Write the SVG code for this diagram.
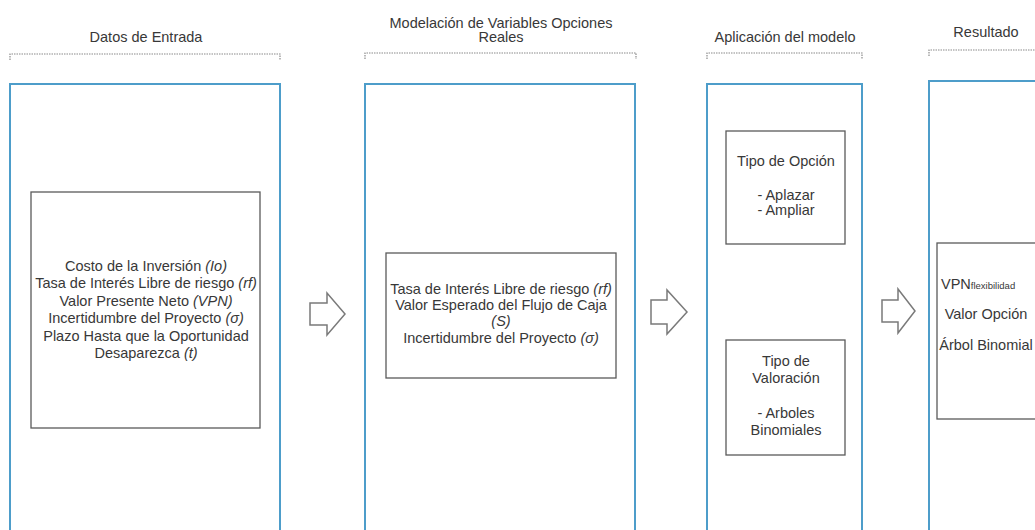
<svg xmlns="http://www.w3.org/2000/svg" width="1035" height="530" viewBox="0 0 1035 530">
<style>
text{font-family:"Liberation Sans",Arial,sans-serif;font-size:14.5px;fill:#383838;text-anchor:middle}
.col{fill:none;stroke:#4d9dca;stroke-width:2}
.box{fill:#fff;stroke:#5a5a5a;stroke-width:1.3}
.brk{fill:none;stroke:#8a8a8a;stroke-width:1.2;stroke-dasharray:1.5 1}
.arr{fill:#fff;stroke:#7a7a7a;stroke-width:1.5;stroke-linejoin:miter}
.i{font-style:italic}
</style>
<rect width="1035" height="530" fill="#fff"/>
<g id="col1">
<text x="146" y="42">Datos de Entrada</text>
<path class="brk" d="M10,60 V54 H280 V60"/>
<rect class="col" x="10" y="84" width="270" height="460"/>
</g>
<g id="col2">
<text x="501" y="28">Modelación de Variables Opciones</text>
<text x="501" y="42">Reales</text>
<path class="brk" d="M365,59 V53 H636 V59"/>
<rect class="col" x="365" y="84" width="270" height="460"/>
</g>
<g id="col3">
<text x="785" y="42">Aplicación del modelo</text>
<path class="brk" d="M707,59 V53 H862 V59"/>
<rect class="col" x="707" y="84" width="155" height="460"/>
</g>
<g id="col4">
<text x="986" y="37">Resultado</text>
<path class="brk" d="M929,56 V50 H1040"/>
<rect class="col" x="929" y="81" width="120" height="460"/>
</g>
<g id="datos-entrada">
<rect class="box" x="31" y="192" width="229" height="236"/>
<text x="146" y="271">Costo de la Inversión <tspan class="i">(Io)</tspan></text>
<text x="146" y="288">Tasa de Interés Libre de riesgo <tspan class="i">(rf)</tspan></text>
<text x="146" y="306">Valor Presente Neto <tspan class="i">(VPN)</tspan></text>
<text x="146" y="323">Incertidumbre del Proyecto <tspan class="i">(σ)</tspan></text>
<text x="146" y="341">Plazo Hasta que la Oportunidad</text>
<text x="146" y="358">Desaparezca <tspan class="i">(t)</tspan></text>
</g>
<g id="modelacion">
<rect class="box" x="386" y="253" width="230" height="125"/>
<text x="501" y="294">Tasa de Interés Libre de riesgo <tspan class="i">(rf)</tspan></text>
<text x="501" y="310">Valor Esperado del Flujo de Caja</text>
<text x="501" y="326" class="i">(S)</text>
<text x="501" y="343">Incertidumbre del Proyecto <tspan class="i">(σ)</tspan></text>
</g>
<g id="tipo-opcion">
<rect class="box" x="726" y="131" width="119" height="113"/>
<text x="786" y="166">Tipo de Opción</text>
<text x="786" y="200">- Aplazar</text>
<text x="786" y="215">- Ampliar</text>
</g>
<g id="tipo-valoracion">
<rect class="box" x="726" y="340" width="119" height="115"/>
<text x="786" y="366">Tipo de</text>
<text x="786" y="383">Valoración</text>
<text x="786" y="418">- Arboles</text>
<text x="786" y="435">Binomiales</text>
</g>
<g id="resultado">
<rect class="box" x="937" y="243" width="110" height="176"/>
<text x="941" y="289" style="text-anchor:start">VPN<tspan style="font-size:9.5px">flexibilidad</tspan></text>
<text x="986" y="319">Valor Opción</text>
<text x="986" y="350">Árbol Binomial</text>
</g>
<g id="connectors">
<path class="arr" d="M310,303 H327 V293 L345,314 L327,335 V325 H310 Z"/>
<path class="arr" d="M651,300 H667 V290 L687,312 L667,334 V324 H651 Z"/>
<path class="arr" d="M882,300 H898 V289 L915,311 L898,333 V322 H882 Z"/>
</g>
</svg>
